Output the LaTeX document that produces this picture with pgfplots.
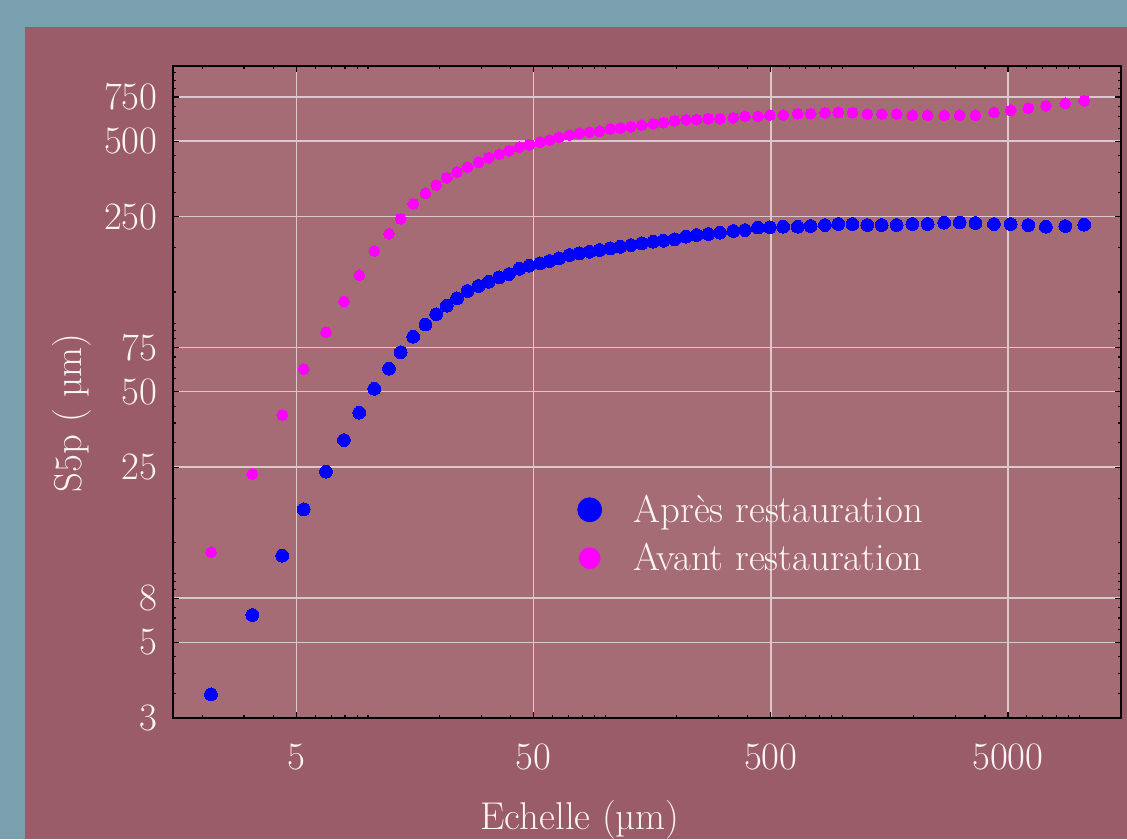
\documentclass[border=0pt]{standalone}
\usepackage{pgfplots}
\usepackage{pgfplotstable}
\pgfplotsset{compat=1.18}
\definecolor{outerbg}{RGB}{122,160,176}
\definecolor{panelbg}{RGB}{154,92,104}
\definecolor{plotbg}{RGB}{166,108,118}
\definecolor{gridc}{RGB}{220,200,204}
\definecolor{txt}{RGB}{250,244,244}
\definecolor{mblue}{RGB}{0,0,255}
\definecolor{mpink}{RGB}{255,0,255}
\newcommand{\bigfont}{\fontsize{19.4}{23.3}\selectfont}

\pgfplotstableread{
x after before
2.176 3.099 11.43
3.250 6.425 23.46
4.348 11.08 40.35
5.355 16.96 61.58
6.648 23.96 86.5
7.917 32.07 114.5
9.186 41.21 145.7
10.63 51.37 182.1
12.26 61.75 213.5
13.73 71.79 245.0
15.52 82.85 281.2
17.47 92.68 309.4
19.39 101.9 333.9
21.47 110.2 357.1
23.72 117.9 376.3
26.27 126.1 394.0
29.23 132.0 411.4
32.28 137.3 429.2
35.74 143.0 442.8
39.31 147.4 457.7
43.45 154.7 473.5
47.87 159.1 483.6
53.12 162.6 495.8
58.26 166.1 505.0
63.89 170.3 517.6
70.74 175.5 528.7
77.97 178.3 537.1
85.93 180.9 543.5
94.66 183.8 547.0
105.1 186.7 558.7
115.9 189.4 563.9
128.5 192.4 570.6
142.6 195.4 579.6
159.6 198.4 586.6
176.2 200.2 592.0
196.5 202.8 603.0
219.3 207.7 608.8
243.3 211.0 608.9
272.3 212.9 614.2
305.1 215.5 614.2
347.1 218.9 619.9
388.9 220.8 627.6
441.2 226.0 627.9
495.7 226.6 635.4
564.0 227.7 635.4
648.9 227.7 643.1
736.1 229.1 643.1
845.9 231.2 649.0
962.5 233.4 651.4
1105 233.4 649.0
1276 231.2 641.3
1467 231.2 641.3
1697 231.2 641.3
1975 233.4 634.2
2293 233.4 634.2
2692 236.2 634.2
3129 236.7 634.2
3648 235.5 634.2
4365 233.4 651.4
5134 233.4 663.5
6091 231.2 677.6
7234 227.7 692.1
8727 229.1 707.5
10493 231.9 724.5
}\datatable

\begin{document}
\begin{tikzpicture}
\fill[outerbg] (0,0) rectangle (563.5pt,419.5pt);
\fill[panelbg] (12.5pt,0) rectangle (563.5pt,406pt);
\begin{scope}
\clip (0,0) rectangle (563.5pt,419.5pt);
\begin{axis}[
  xmode=log, ymode=log,
  scale only axis, width=474.15pt, height=326pt,
  at={(86.35pt,60.65pt)}, anchor=south west,
  xmin=1.5, xmax=15000, ymin=2.5, ymax=1000,
  axis background/.style={fill=plotbg},
  xtick={5,50,500,5000}, xticklabels={5,50,500,5000},
  minor xtick={2,3,4,6,7,8,9,10,20,30,40,60,70,80,90,100,200,300,400,600,700,800,900,1000,2000,3000,4000,6000,7000,8000,9000,10000},
  ytick={2.5,5,7.5,25,50,75,250,500,750}, yticklabels={3,5,8,25,50,75,250,500,750},
  minor ytick={3.125,3.75,4.375,5.625,6.25,6.875,8.125,8.75,9.375,12.5,18.75,31.25,37.5,43.75,56.25,62.5,68.75,81.25,87.5,93.75,125,187.5,312.5,375,437.5,562.5,625,687.5,812.5,875,937.5},
  grid=major, major grid style={gridc, line width=0.75pt},
  tick align=inside, xtick pos=both, ytick pos=both,
  major tick length=3pt, minor tick length=1.6pt,
  tick style={black, line width=0.6pt},
  axis line style={black, line width=1pt},
  x tick label style={font=\bigfont, text=txt, anchor=north, inner sep=0pt, yshift=-12.8pt},
  y tick label style={font=\bigfont, text=txt, anchor=east, inner sep=0pt, xshift=-7.35pt},
  xlabel={Echelle (µm)}, ylabel={S5p ( µm)},
  label style={font=\bigfont, text=txt},
  xlabel style={at={(axis description cs:0.4295,-0.1707)}, anchor=base},
  ylabel style={at={(axis description cs:-0.1062,0.4673)}, anchor=center},
  legend style={draw=none, fill=none, font=\bigfont, at={(axis description cs:0.4161,0.3428)}, anchor=north west, inner sep=0pt, column sep=11pt, row sep=9pt, nodes={inner sep=0pt, text=txt}},
  legend cell align=left,
]
\addplot[only marks, mark=*, color=mblue, mark size=3.2pt, mark options={line width=0pt},
  legend image code/.code={\path[draw=none, fill=none] (-11pt,-6pt) rectangle (11pt,6pt); \fill[mblue] (0pt,0pt) circle (6pt);}]
  table[x=x, y=after] {\datatable};
\addlegendentry{Après restauration}
\addplot[only marks, mark=*, color=mpink, mark size=2.7pt, mark options={line width=0pt},
  legend image code/.code={\path[draw=none, fill=none] (-11pt,-6pt) rectangle (11pt,6pt); \fill[mpink] (0pt,0pt) circle (5.2pt);}]
  table[x=x, y=before] {\datatable};
\addlegendentry{Avant restauration}
\end{axis}
\end{scope}
\pgfresetboundingbox
\useasboundingbox (0,0) rectangle (563.5pt,419.5pt);
\end{tikzpicture}
\end{document}
